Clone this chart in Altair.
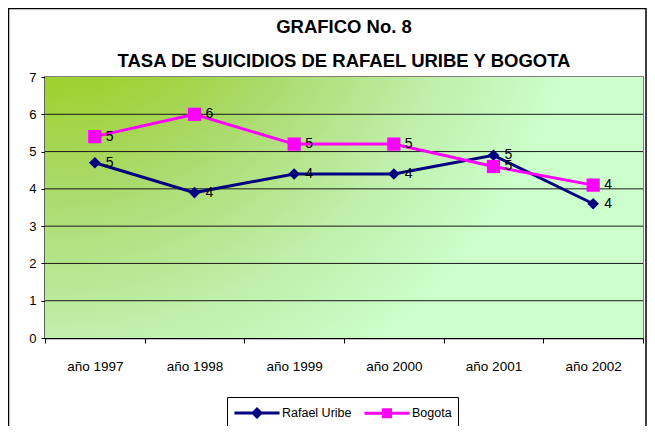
import altair as alt
import pandas as pd

years = ["año 1997", "año 1998", "año 1999", "año 2000", "año 2001", "año 2002"]
rafael_uribe = [4.7, 3.9, 4.4, 4.4, 4.9, 3.6]
bogota = [5.4, 6.0, 5.2, 5.2, 4.6, 4.1]
series_names = ["Rafael Uribe", "Bogota"]
series_colors = ["#000080", "#ff00ff"]
y_ticks = [0, 1, 2, 3, 4, 5, 6, 7]
title_lines = ["GRAFICO No. 8", "TASA DE SUICIDIOS DE RAFAEL URIBE Y BOGOTA"]

rows = []
for s, vals in zip(series_names, [rafael_uribe, bogota]):
    for yr, v in zip(years, vals):
        rows.append({"year": yr, "series": s, "value": v})
df = pd.DataFrame(rows)
grid_df = pd.DataFrame({"value": y_ticks[1:-1]})

FONT = "Arial, Liberation Sans, sans-serif"

x_enc = alt.X(
    "year:N",
    sort=years,
    scale=alt.Scale(type="band", domain=years, paddingInner=0, paddingOuter=0),
    axis=alt.Axis(
        title=None, labelAngle=0, tickBand="extent", tickSize=5, tickColor="black",
        domainColor="black", domainWidth=1.5, labelPadding=16, labelFontSize=13.5,
        labelFont=FONT, labelColor="black", grid=False,
    ),
)
y_scale = alt.Scale(domain=[0, 7], nice=False)
y_axis = alt.Axis(
    title=None, values=y_ticks, tickSize=4, tickColor="black", domainColor="black",
    domainWidth=1.5, labelPadding=5, labelFontSize=13, labelFont=FONT,
    labelColor="black", grid=False,
)
y_enc = alt.Y("value:Q", scale=y_scale, axis=y_axis)

# legend symbols: a line through a (stroke-filled) marker; symbol size 289 -> 8.5 px per unit
sym_diamond = "M-2.65,0H2.65M0,-0.47L0.47,0L0,0.47L-0.47,0ZM0,-0.22L0.22,0L0,0.22L-0.22,0Z"
sym_square = "M-2.65,0H2.65M-0.41,-0.41H0.41V0.41H-0.41ZM-0.18,-0.18H0.18V0.18H-0.18Z"
is_ru = f"datum.value === '{series_names[0]}'"

leg = alt.Legend(
    title=None, orient="none", legendX=182, legendY=320, direction="horizontal",
    strokeColor="black", fillColor="white", padding=6, labelFontSize=12.5,
    labelFont=FONT, labelColor="black", labelOffset=15, symbolOffset=14, columnPadding=6,
    symbolSize=289, symbolStrokeWidth=3, symbolOpacity=1,
    symbolType=alt.ExprRef(expr=f"{is_ru} ? '{sym_diamond}' : '{sym_square}'"),
)
color_leg = alt.Color("series:N", scale=alt.Scale(domain=series_names, range=series_colors), legend=leg)
color_noleg = alt.Color("series:N", scale=alt.Scale(domain=series_names, range=series_colors), legend=None)

bg = alt.Chart(pd.DataFrame({"a": [0]})).mark_rect(
    fill=alt.RadialGradient(
        gradient="radial",
        stops=[
            alt.GradientStop(color="#99cc00", offset=0),
            alt.GradientStop(color="#9ccf22", offset=0.25),
            alt.GradientStop(color="#aada6a", offset=0.47),
            alt.GradientStop(color="#c0f0ac", offset=0.72),
            alt.GradientStop(color="#ccffcc", offset=0.92),
            alt.GradientStop(color="#ccffcc", offset=1),
        ],
        x1=0, y1=0, r1=0, x2=0, y2=0, r2=1,
    ),
).encode(x=alt.value(0), x2=alt.value("width"), y=alt.value(0), y2=alt.value("height"))

grid = alt.Chart(grid_df).mark_rule(color="#1a1a1a", strokeWidth=1).encode(y=y_enc)

frame = alt.Chart(pd.DataFrame({"a": [0]})).mark_rect(
    fill="white", fillOpacity=0, stroke="black", strokeWidth=1.5, clip=False
).encode(x=alt.value(-36.5), x2=alt.value(601), y=alt.value(-68.5), y2=alt.value(520))

ru = df[df.series == series_names[0]]
bo = df[df.series == series_names[1]]

line_ru = alt.Chart(ru).mark_line(strokeWidth=3).encode(x=x_enc, y=y_enc, color=color_leg)
pts_ru = alt.Chart(ru).mark_point(shape="diamond", filled=True, size=135, opacity=1).encode(
    x=x_enc, y=y_enc, color=color_noleg)
line_bo = alt.Chart(bo).mark_line(strokeWidth=3).encode(x=x_enc, y=y_enc, color=color_leg)
pts_bo = alt.Chart(bo).mark_point(shape="square", filled=True, size=175, opacity=1).encode(
    x=x_enc, y=y_enc, color=color_noleg)

labels = alt.Chart(df).mark_text(
    align="left", baseline="middle", dx=11, fontSize=14, font=FONT, color="black"
).encode(x=x_enc, y=y_enc, text=alt.Text("value:Q", format=".0f"))

chart = alt.layer(
    bg, grid, frame, line_ru, pts_ru, line_bo, pts_bo, labels
).properties(
    width=598, height=261,
    padding={"left": 37, "top": 69, "right": 4, "bottom": 88},
    autosize=alt.AutoSizeParams(type="none"),
    background="white",
    title=alt.Title(
        title_lines, fontSize=18.5, fontWeight="bold", font=FONT, lineHeight=34,
        offset=-62.5, anchor="middle", color="black", frame="group",
    ),
).configure_view(stroke="#808080", strokeWidth=2)

chart.save("out.html", embed_options={"renderer": "svg", "actions": False})
